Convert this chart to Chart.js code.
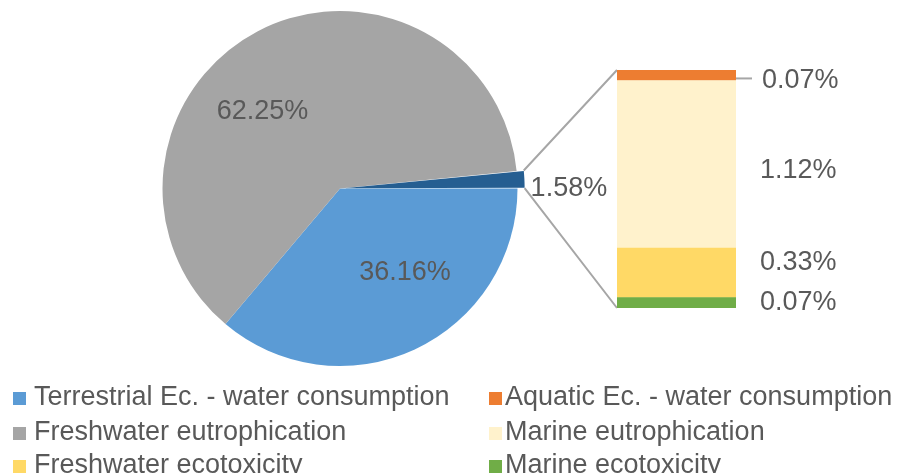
<!DOCTYPE html>
<html><head><meta charset="utf-8">
<script src="https://cdn.jsdelivr.net/npm/chart.js@4"></script>
<style>
html,body{margin:0;padding:0;background:#fff;overflow:hidden;}
#wrap{position:relative;width:902px;height:473px;overflow:hidden;font-family:"Liberation Sans",Arial,sans-serif;color:#595959;background:#fff;}
#pie{position:absolute;left:0;top:0;width:902px;height:473px;}
#bar{position:absolute;left:600px;top:55px;width:302px;height:270px;}
.leg{position:absolute;font-size:27px;line-height:30px;height:30px;white-space:nowrap;color:#595959;}
.sw{position:absolute;width:13px;height:13px;}
</style></head><body>
<div id="wrap">
<canvas id="pie" width="902" height="473"></canvas>
<canvas id="bar" width="302" height="270"></canvas>
</div>
<script>
// ---- data ----
const pieLabels = ['Terrestrial Ec. - water consumption', 'Freshwater eutrophication', 'Other'];
const pieValues = [36.16, 62.25, 1.58];
const pieColors = ['#5B9BD5', '#A5A5A5', '#255E91'];

const barCategory = ['Other'];
const barLabels = ['Marine ecotoxicity', 'Freshwater ecotoxicity', 'Marine eutrophication', 'Aquatic Ec. - water consumption'];
const barValues = [0.07, 0.33, 1.12, 0.07];
const barColors = ['#70AD47', '#FFD966', '#FFF2CC', '#ED7D31'];

const legendLabels = ['Terrestrial Ec. - water consumption', 'Aquatic Ec. - water consumption',
  'Freshwater eutrophication', 'Marine eutrophication',
  'Freshwater ecotoxicity', 'Marine ecotoxicity'];
const legendColors = ['#5B9BD5', '#ED7D31', '#A5A5A5', '#FFF2CC', '#FFD966', '#70AD47'];

// ---- styling ----
const textColor = '#595959';
const lineColor = '#A6A6A6';
const FONT = '"Liberation Sans", Arial, sans-serif';
const otherOffset = 15;
const pieLabelAngleNudge = [-12.7, -17.5, 0];
const pieLabelRadius = [0.60, 0.615, 0];
const barLabelNudge = [-0.7, -10.6, 6.2, 5.2];
const barLabelDx = [24, 24, 24, 26];
const barCanvasLeft = 600, barCanvasTop = 55;

// ---- bar (breakdown of "Other") ----
const barLabelPlugin = {
  id: 'barLabels',
  afterDatasetsDraw(chart) {
    const ctx = chart.ctx;
    const area = chart.chartArea;
    ctx.save();
    ctx.fillStyle = textColor;
    ctx.font = '27px ' + FONT;
    ctx.textBaseline = 'middle';
    ctx.textAlign = 'left';
    barValues.forEach((v, i) => {
      const el = chart.getDatasetMeta(i).data[0];
      const cy = (el.y + el.base) / 2 + barLabelNudge[i];
      if (i === barValues.length - 1) {
        ctx.strokeStyle = lineColor;
        ctx.lineWidth = 2;
        ctx.beginPath();
        ctx.moveTo(area.right, cy - 2);
        ctx.lineTo(area.right + 16, cy - 2);
        ctx.stroke();
      }
      ctx.fillText(v.toFixed(2) + '%', area.right + barLabelDx[i], cy);
    });
    ctx.restore();
  }
};

const barChart = new Chart(document.getElementById('bar'), {
  type: 'bar',
  data: {
    labels: barCategory,
    datasets: barLabels.map((l, i) => ({
      label: l,
      data: [barValues[i]],
      backgroundColor: barColors[i],
      borderWidth: 0,
      barPercentage: 1,
      categoryPercentage: 1
    }))
  },
  options: {
    responsive: false,
    animation: false,
    layout: { padding: { left: 17, top: 15, right: 166, bottom: 17 } },
    plugins: { legend: { display: false }, tooltip: { enabled: false } },
    scales: {
      x: { display: false, stacked: true },
      y: { display: false, stacked: true, min: 0, max: barValues.reduce((a, b) => a + b, 0) }
    }
  },
  plugins: [barLabelPlugin]
});

// ---- pie ----
const pieLabelPlugin = {
  id: 'pieLabels',
  afterDatasetsDraw(chart) {
    const ctx = chart.ctx;
    const meta = chart.getDatasetMeta(0);
    ctx.save();
    // connector lines from the "Other" slice to the bar
    const o = meta.data[2];
    const half = (o.startAngle + o.endAngle) / 2;
    const fix = 1 - Math.sin(Math.min(Math.PI, o.endAngle - o.startAngle));
    const shift = otherOffset / 4 * (1 + fix);
    const ox = o.x + shift * Math.cos(half), oy = o.y + shift * Math.sin(half);
    const topC = [ox + o.outerRadius * Math.cos(o.startAngle), oy + o.outerRadius * Math.sin(o.startAngle)];
    const botC = [ox + o.outerRadius * Math.cos(o.endAngle), oy + o.outerRadius * Math.sin(o.endAngle)];
    const topBar = barChart.getDatasetMeta(barValues.length - 1).data[0];
    const botBar = barChart.getDatasetMeta(0).data[0];
    const bx = barCanvasLeft + topBar.x - topBar.width / 2;
    ctx.strokeStyle = lineColor;
    ctx.lineWidth = 2;
    ctx.beginPath();
    ctx.moveTo(topC[0], topC[1]);
    ctx.lineTo(bx, barCanvasTop + topBar.y);
    ctx.moveTo(botC[0], botC[1]);
    ctx.lineTo(bx, barCanvasTop + botBar.base);
    ctx.stroke();

    ctx.fillStyle = textColor;
    ctx.textBaseline = 'middle';
    meta.data.forEach((arc, i) => {
      const text = pieValues[i].toFixed(2) + '%';
      ctx.font = '27px ' + FONT;
      if (i === 2) {
        ctx.textAlign = 'left';
        ctx.fillText(text, ox + arc.outerRadius + 6, arc.y + 0.5);
      } else {
        ctx.textAlign = 'center';
        const a = (arc.startAngle + arc.endAngle) / 2 + pieLabelAngleNudge[i] * Math.PI / 180;
        const r = arc.outerRadius * pieLabelRadius[i];
        ctx.fillText(text, arc.x + r * Math.cos(a), arc.y + r * Math.sin(a));
      }
    });
    ctx.restore();
  }
};

new Chart(document.getElementById('pie'), {
  type: 'pie',
  data: {
    labels: pieLabels,
    datasets: [{
      data: pieValues,
      backgroundColor: pieColors,
      borderWidth: 0,
      offset: [0, 0, otherOffset]
    }]
  },
  options: {
    responsive: false,
    animation: false,
    rotation: 90,
    radius: 177.5,
    layout: { padding: { left: 140, right: 362, top: 0, bottom: 96 } },
    plugins: { legend: { display: false }, tooltip: { enabled: false } }
  },
  plugins: [pieLabelPlugin]
});

// ---- legend ----
const wrap = document.getElementById('wrap');
const rowY = [396, 431, 464];
const colSw = [13, 489];
const colTx = [34, 505];
legendLabels.forEach((l, i) => {
  const row = Math.floor(i / 2), col = i % 2;
  const sw = document.createElement('div');
  sw.className = 'sw';
  sw.style.left = colSw[col] + 'px';
  sw.style.top = (rowY[row] + 2 - 6.5) + 'px';
  sw.style.background = legendColors[i];
  wrap.appendChild(sw);
  const t = document.createElement('div');
  t.className = 'leg';
  t.style.left = colTx[col] + 'px';
  t.style.top = (rowY[row] - 15) + 'px';
  t.textContent = l;
  wrap.appendChild(t);
});
</script>
</body></html>
